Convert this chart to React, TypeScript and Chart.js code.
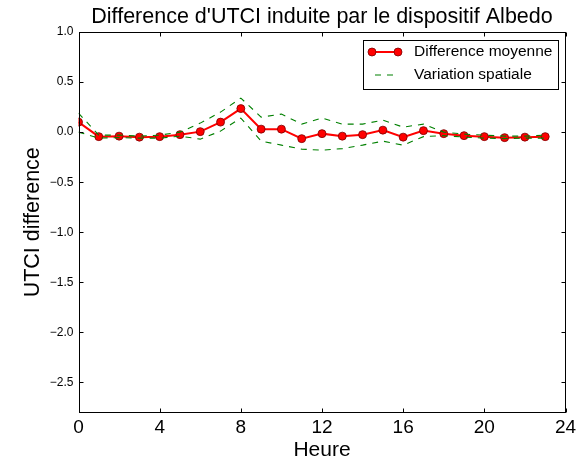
import React, { useEffect, useRef } from 'react';
import { Chart, registerables } from 'chart.js';

Chart.register(...registerables);

const hours = [0, 1, 2, 3, 4, 5, 6, 7, 8, 9, 10, 11, 12, 13, 14, 15, 16, 17, 18, 19, 20, 21, 22, 23];
const meanDiff = [0.10, -0.045, -0.04, -0.05, -0.045, -0.025, 0.005, 0.10, 0.235, 0.03, 0.03, -0.065, -0.015, -0.04, -0.025, 0.02, -0.05, 0.015, -0.015, -0.035, -0.045, -0.055, -0.05, -0.045];
const upperBound = [0.19, -0.03, -0.03, -0.04, -0.03, 0.0, 0.09, 0.20, 0.34, 0.15, 0.18, 0.08, 0.14, 0.08, 0.08, 0.12, 0.05, 0.08, 0.0, -0.02, -0.03, -0.04, -0.04, -0.03];
const lowerBound = [0.0, -0.06, -0.055, -0.06, -0.06, -0.04, -0.07, 0.01, 0.14, -0.09, -0.13, -0.17, -0.18, -0.165, -0.13, -0.09, -0.13, -0.045, -0.035, -0.05, -0.06, -0.065, -0.06, -0.06];

const xTicks = [0, 4, 8, 12, 16, 20, 24];
const yTicks = [-2.5, -2.0, -1.5, -1.0, -0.5, 0.0, 0.5, 1.0];

const titleText = "Difference d'UTCI induite par le dispositif Albedo";
const xTitle = 'Heure';
const yTitle = 'UTCI difference';
const seriesNames = ['Difference moyenne', 'Variation spatiale'];

const FONT = '"Liberation Sans", Arial, sans-serif';

const decorPlugin = {
  id: 'decor',
  afterDraw(chart: any) {
    const { ctx, chartArea: a, scales } = chart;
    ctx.save();
    // frame
    ctx.strokeStyle = '#000';
    ctx.lineWidth = 1;
    const L = Math.round(a.left) + 0.5;
    const R = Math.round(a.right) - 0.5;
    const T = Math.round(a.top) + 0.5;
    const B = Math.round(a.bottom) - 0.5;
    ctx.strokeRect(L, T, R - L, B - T);
    // inward ticks
    ctx.beginPath();
    for (const v of xTicks) {
      const px = Math.round(scales.x.getPixelForValue(v)) + 0.5;
      ctx.moveTo(px, B);
      ctx.lineTo(px, B - 4);
      ctx.moveTo(px, T);
      ctx.lineTo(px, T + 4);
    }
    for (const v of yTicks) {
      const py = Math.round(scales.y.getPixelForValue(v)) + 0.5;
      ctx.moveTo(L, py);
      ctx.lineTo(L + 4, py);
      ctx.moveTo(R, py);
      ctx.lineTo(R - 4, py);
    }
    ctx.stroke();
    // title
    ctx.fillStyle = '#000';
    ctx.font = `21.5px ${FONT}`;
    ctx.textAlign = 'center';
    ctx.textBaseline = 'middle';
    ctx.fillText(titleText, (a.left + a.right) / 2, 17);
    // legend
    const bx = 363.5, by = 40.5, bw = 195, bh = 49;
    ctx.fillStyle = '#fff';
    ctx.fillRect(bx, by, bw, bh);
    ctx.strokeStyle = '#000';
    ctx.strokeRect(bx, by, bw, bh);
    const r1 = 52, r2 = 75;
    ctx.strokeStyle = '#ff0000';
    ctx.lineWidth = 2;
    ctx.beginPath();
    ctx.moveTo(372, r1);
    ctx.lineTo(398, r1);
    ctx.stroke();
    for (const mx of [372, 398]) {
      ctx.beginPath();
      ctx.arc(mx, r1, 4, 0, Math.PI * 2);
      ctx.fillStyle = '#ff0000';
      ctx.fill();
      ctx.lineWidth = 0.8;
      ctx.strokeStyle = '#7a0000';
      ctx.stroke();
    }
    ctx.strokeStyle = '#008000';
    ctx.lineWidth = 1;
    ctx.setLineDash([6, 6]);
    ctx.beginPath();
    ctx.moveTo(375, r2);
    ctx.lineTo(394, r2);
    ctx.stroke();
    ctx.setLineDash([]);
    ctx.fillStyle = '#000';
    ctx.font = `15.5px ${FONT}`;
    ctx.textAlign = 'left';
    ctx.textBaseline = 'middle';
    ctx.fillText(seriesNames[0], 414, r1);
    ctx.fillText(seriesNames[1], 414, r2);
    ctx.restore();
  },
};

export default function App() {
  const ref = useRef<HTMLCanvasElement>(null);
  useEffect(() => {
    if (!ref.current) return;
    const chart = new Chart(ref.current, {
      type: 'line',
      data: {
        datasets: [
          {
            label: seriesNames[1],
            data: hours.map((h, i) => ({ x: h, y: upperBound[i] })),
            borderColor: '#008000',
            borderWidth: 1.1,
            borderDash: [6, 6],
            pointRadius: 0,
            fill: false,
            order: 0,
          },
          {
            label: seriesNames[1] + ' (min)',
            data: hours.map((h, i) => ({ x: h, y: lowerBound[i] })),
            borderColor: '#008000',
            borderWidth: 1.1,
            borderDash: [6, 6],
            pointRadius: 0,
            fill: false,
            order: 1,
          },
          {
            label: seriesNames[0],
            data: hours.map((h, i) => ({ x: h, y: meanDiff[i] })),
            borderColor: '#ff0000',
            borderWidth: 2,
            pointRadius: 4,
            pointBackgroundColor: '#ff0000',
            pointBorderColor: '#7a0000',
            pointBorderWidth: 0.8,
            fill: false,
            order: 2,
          },
        ],
      },
      options: {
        responsive: false,
        animation: false,
        devicePixelRatio: 1,
        layout: { padding: { top: 32, right: 15.5, left: 0, bottom: 0 } },
        plugins: {
          legend: { display: false },
          tooltip: { enabled: false },
          title: { display: false },
        },
        scales: {
          x: {
            type: 'linear',
            min: 0,
            max: 24,
            grid: { display: false, drawTicks: false },
            border: { display: false },
            afterFit: (s: any) => { s.height = 46.5; },
            afterBuildTicks: (s: any) => { s.ticks = xTicks.map((v) => ({ value: v })); },
            ticks: {
              color: '#000',
              padding: 4,
              font: { family: FONT, size: 19 },
              maxRotation: 0,
              callback: (v: any) => String(v),
            },
            title: {
              display: true,
              text: xTitle,
              color: '#000',
              font: { family: FONT, size: 21, lineHeight: 0.8 },
              padding: 0,
            },
          },
          y: {
            type: 'linear',
            min: -2.8,
            max: 1.0,
            grid: { display: false, drawTicks: false },
            border: { display: false },
            afterFit: (s: any) => { s.width = 78.5; },
            afterBuildTicks: (s: any) => { s.ticks = yTicks.map((v) => ({ value: v })); },
            ticks: {
              color: '#000',
              padding: 5,
              font: { family: FONT, size: 12 },
              callback: (v: any) => Number(v).toFixed(1).replace('-', '\u2212'),
            },
            title: {
              display: true,
              text: yTitle,
              color: '#000',
              font: { family: FONT, size: 21.5, lineHeight: 1 },
              padding: { top: 22, bottom: 0 },
            },
          },
        },
      },
      plugins: [decorPlugin],
    });
    return () => chart.destroy();
  }, []);
  return (
    <div style={{ position: 'absolute', left: 0, top: 0, width: 581, height: 459, background: '#fff' }}>
      <canvas ref={ref} width={581} height={459} style={{ display: 'block' }} />
    </div>
  );
}
